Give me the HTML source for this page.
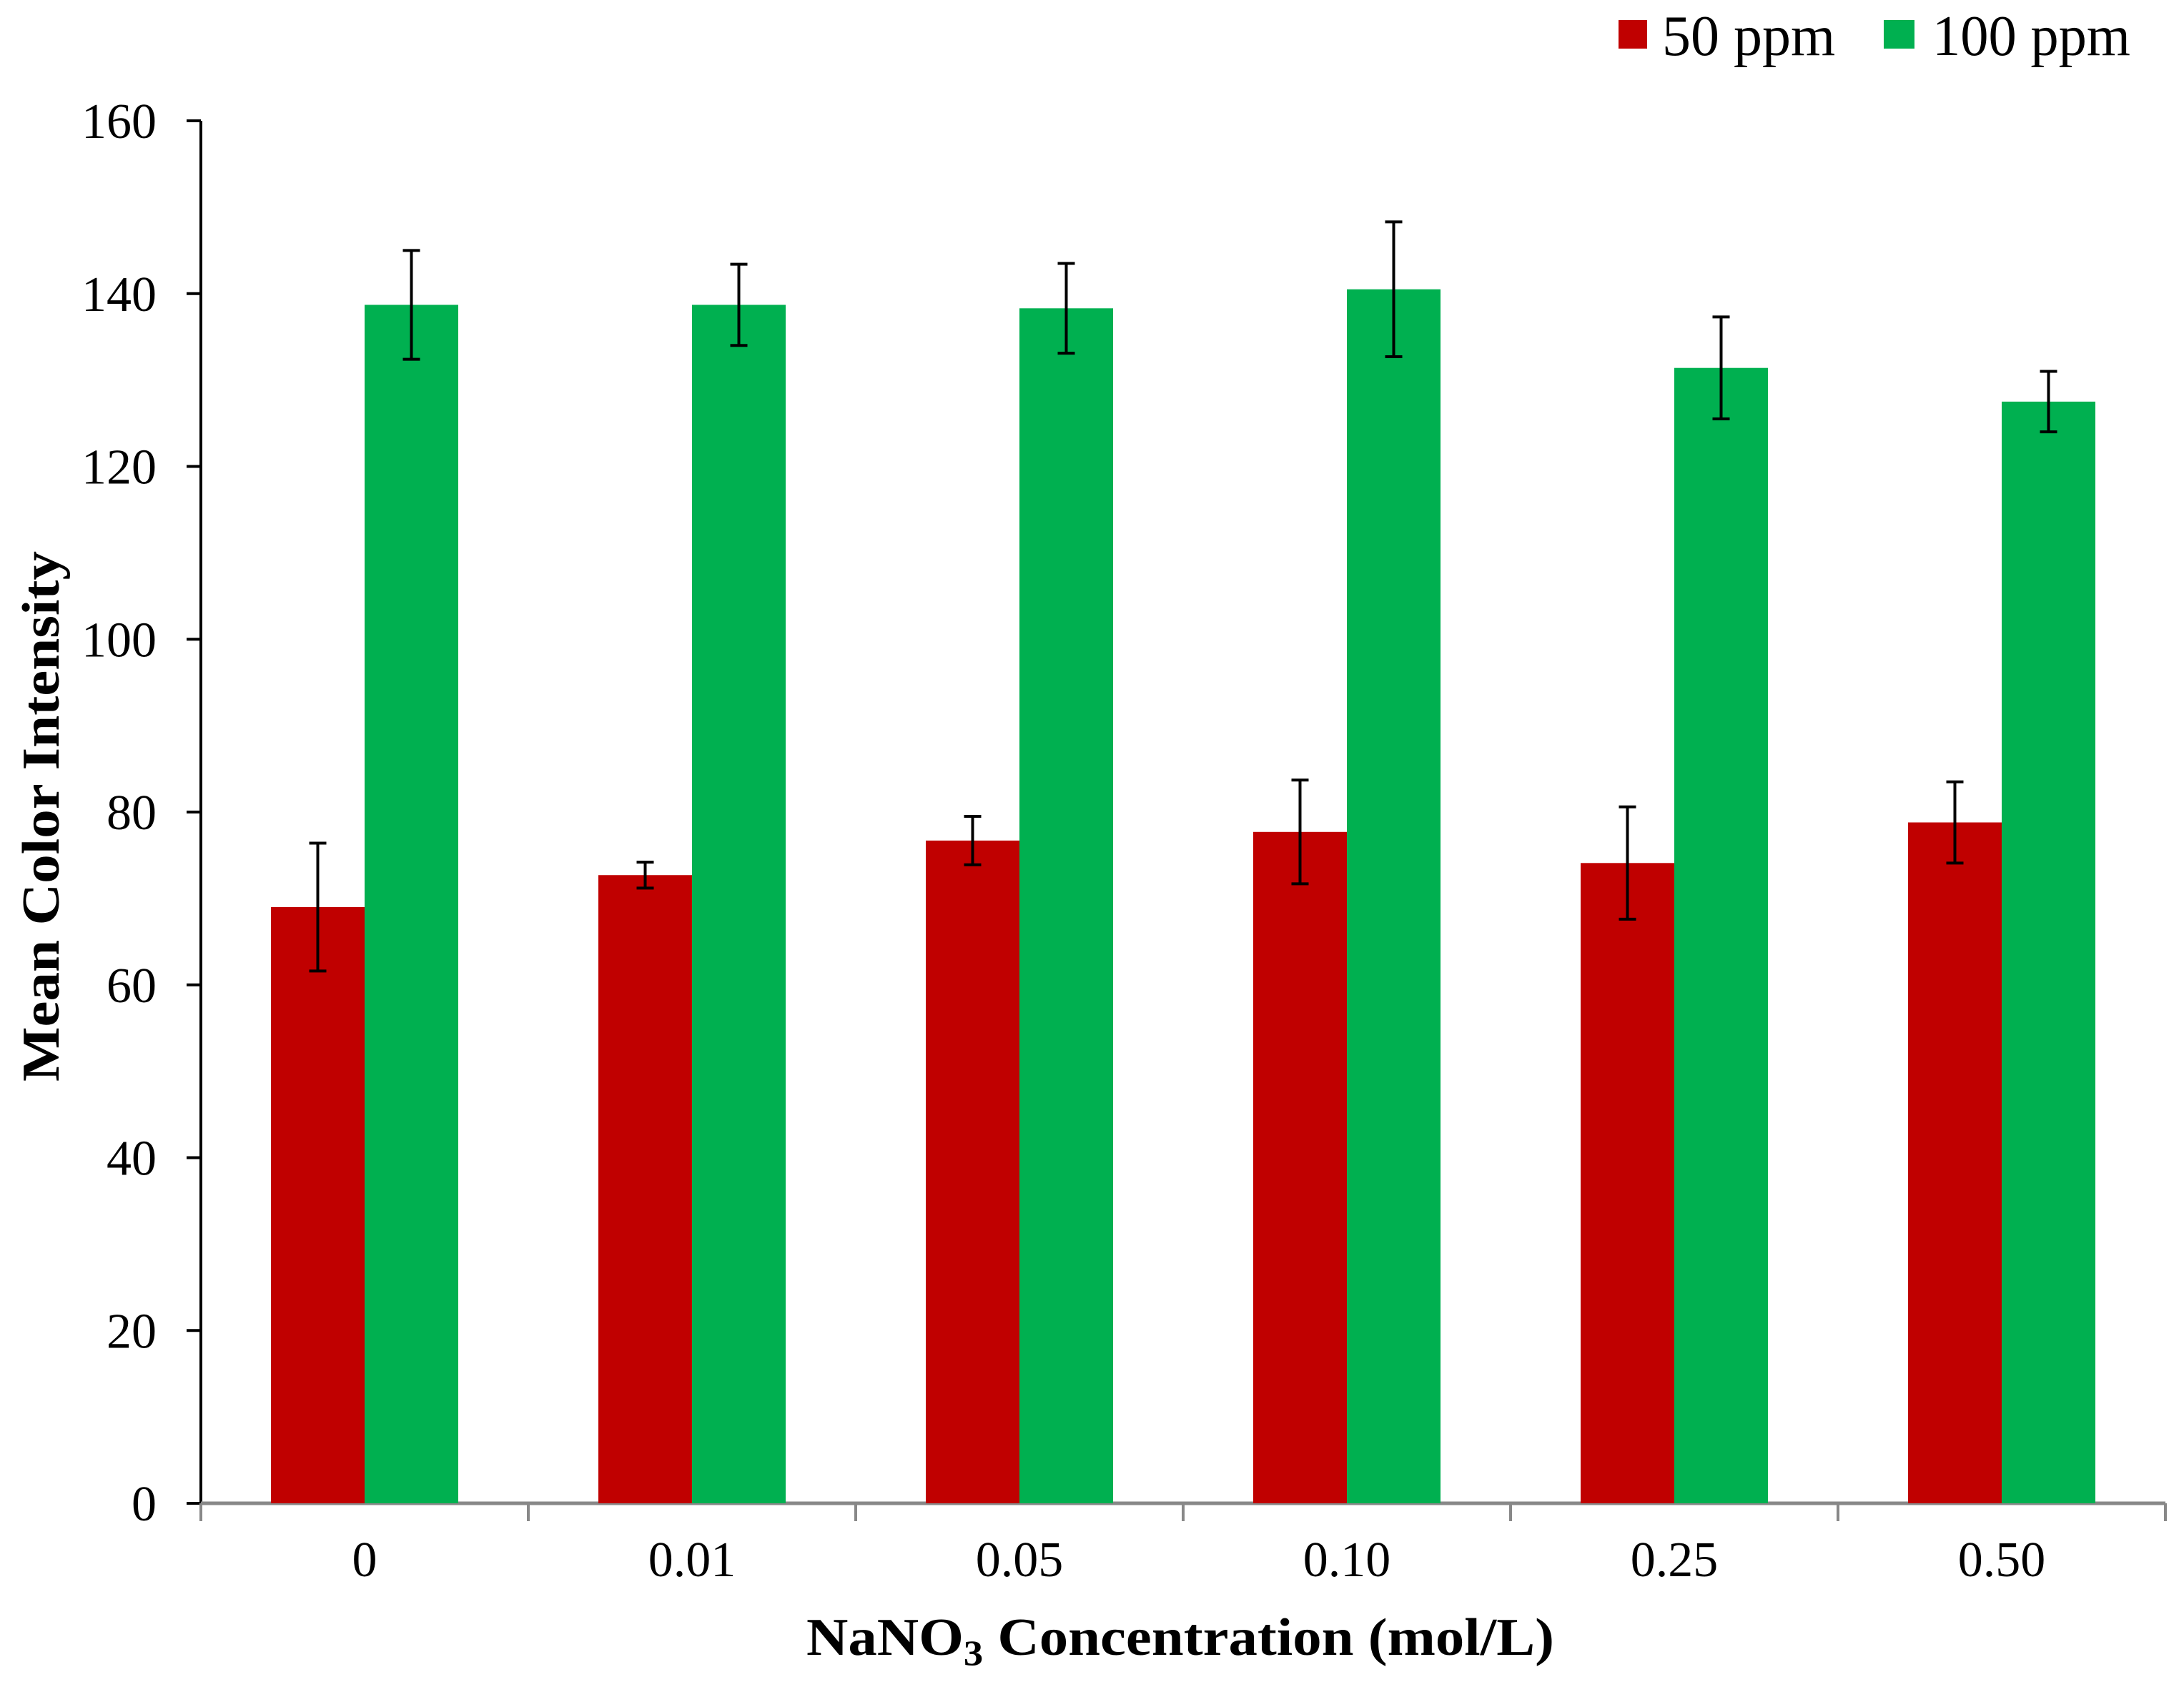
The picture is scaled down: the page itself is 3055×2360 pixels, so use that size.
<!DOCTYPE html>
<html><head><meta charset="utf-8"><style>
html,body{margin:0;padding:0;background:#fff;}
svg{display:block;font-family:"Liberation Serif",serif;}
</style></head><body>
<svg id="chart" width="3055" height="2360" viewBox="0 0 3055 2360" xmlns="http://www.w3.org/2000/svg">
<rect width="3055" height="2360" fill="#fff"/>
<g id="legend">
  <g>
    <rect x="2264" y="28" width="40" height="40" fill="#c00000"/>
    <text x="2325" y="77" font-size="80" fill="#000">50 ppm</text>
  </g>
  <g>
    <rect x="2635" y="28" width="43" height="40" fill="#00b050"/>
    <text x="2703" y="77" font-size="80" fill="#000" textLength="277" lengthAdjust="spacingAndGlyphs">100 ppm</text>
  </g>
</g>
<g id="yaxis"></g>
<g id="xaxis"></g>
<g id="bars"></g>
<text x="1651" y="2315" font-size="74" font-weight="bold" text-anchor="middle" textLength="1046" lengthAdjust="spacingAndGlyphs">NaNO<tspan font-size="50" dy="14">3</tspan><tspan dy="-14"> Concentration (mol/L)</tspan></text>
<text transform="translate(82,1142) rotate(-90)" font-size="74" font-weight="bold" text-anchor="middle" textLength="742" lengthAdjust="spacingAndGlyphs">Mean Color Intensity</text>
</svg>
<script>
const categories = ["0", "0.01", "0.05", "0.10", "0.25", "0.50"];
const series50 = [69.0, 72.7, 76.7, 77.7, 74.1, 78.8];
const err50 = [7.4, 1.5, 2.8, 6.0, 6.5, 4.7];
const series100 = [138.7, 138.7, 138.3, 140.5, 131.4, 127.5];
const err100 = [6.3, 4.7, 5.2, 7.8, 5.9, 3.5];
const yTicks = [0, 20, 40, 60, 80, 100, 120, 140, 160];

const NS = "http://www.w3.org/2000/svg";
const X0 = 281, CW = 458, Y0 = 2103, YTOP = 169, YMAX = 160, BW = 131;
function yScale(v){ return Y0 - (v / YMAX) * (Y0 - YTOP); }
function xCenter(i){ return X0 + CW * i + CW / 2; }
function mk(tag, attrs, parent){
  const e = document.createElementNS(NS, tag);
  for (const k in attrs) e.setAttribute(k, attrs[k]);
  parent.appendChild(e);
  return e;
}
const yaxis = document.getElementById('yaxis');
const xaxis = document.getElementById('xaxis');
const bars = document.getElementById('bars');

mk('line', {x1: X0, y1: YTOP, x2: X0, y2: Y0, stroke: '#000', 'stroke-width': 4}, yaxis);
yTicks.forEach(t => {
  const y = yScale(t);
  const tk = mk('line', {x1: X0 - 20, y1: y, x2: X0, y2: y, stroke: '#000', 'stroke-width': 4}, yaxis);
  
  
  const lb = mk('text', {x: 219, y: y + 24, 'font-size': 70, 'text-anchor': 'end', fill: '#000'}, yaxis);
  lb.textContent = String(t);
  
  
});

categories.forEach((c, i) => {
  const cx = xCenter(i);
  const hb = yScale(series50[i]);
  const r = mk('rect', {x: cx - BW, y: hb, width: BW, height: Y0 - hb, fill: '#c00000'}, bars);
  
  
  const hg = yScale(series100[i]);
  const g = mk('rect', {x: cx, y: hg, width: BW, height: Y0 - hg, fill: '#00b050'}, bars);
  
  
  [[cx - BW / 2, series50[i], err50[i]], [cx + BW / 2, series100[i], err100[i]]].forEach(([ex, v, e]) => {
    const eg = mk('g', {stroke: '#000', 'stroke-width': 4}, bars);
    
    
    mk('line', {x1: ex, y1: yScale(v + e), x2: ex, y2: yScale(v - e)}, eg);
    mk('line', {x1: ex - 12, y1: yScale(v + e), x2: ex + 12, y2: yScale(v + e)}, eg);
    mk('line', {x1: ex - 12, y1: yScale(v - e), x2: ex + 12, y2: yScale(v - e)}, eg);
  });
  const lb = mk('text', {x: cx, y: 2205, 'font-size': 70, 'text-anchor': 'middle', fill: '#000'}, xaxis);
  lb.textContent = c;
  
  
});
mk('line', {x1: X0, y1: Y0, x2: X0 + CW * categories.length, y2: Y0, stroke: '#888', 'stroke-width': 5}, xaxis);
for (let i = 0; i <= categories.length; i++) {
  const t = mk('line', {x1: X0 + CW * i, y1: Y0, x2: X0 + CW * i, y2: Y0 + 25, stroke: '#888', 'stroke-width': 4}, xaxis);
  
  
}
</script>
</body></html>
